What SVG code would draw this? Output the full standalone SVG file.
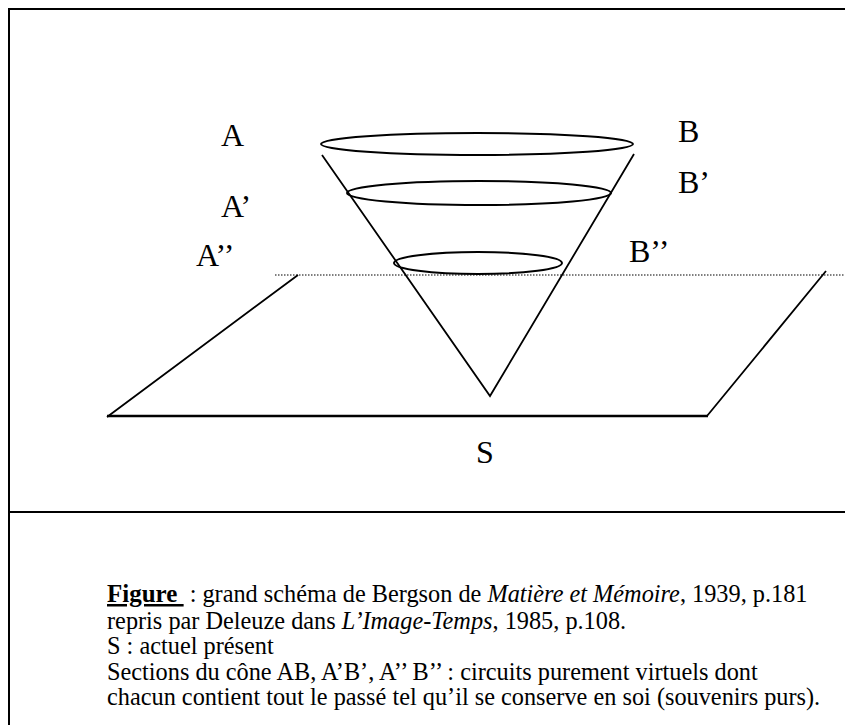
<svg xmlns="http://www.w3.org/2000/svg" width="845" height="725" viewBox="0 0 845 725">
<style>
.frame{fill:none;stroke:#000;stroke-width:2}
.ln{fill:none;stroke:#000;stroke-width:1.8}
.el{fill:none;stroke:#000;stroke-width:2}
.dot{fill:none;stroke:#000;stroke-width:1.2;stroke-dasharray:1.5 1.5}
.lbl{font-family:"Liberation Serif","Times New Roman",serif;font-size:32px;fill:#000}
.cap{font-family:"Liberation Serif","Times New Roman",serif;font-size:24.3px;fill:#000}
.it{font-style:italic}
</style>
<rect width="845" height="725" fill="#fff"/>
<g id="frame">
<path class="frame" d="M846 9 H9 V726"/>
<line class="frame" x1="9" y1="512" x2="846" y2="512"/>
</g>
<g id="plane">
<line class="dot" x1="275" y1="275" x2="845" y2="275"/>
<path class="ln" d="M298 275 L107 417 M826 271 L707 416"/>
<line x1="107" y1="416" x2="708" y2="416" stroke="#000" stroke-width="2.5"/>
</g>
<g id="cone">
<path class="ln" d="M322 155 L490 396 L634 154"/>
<ellipse class="el" cx="477" cy="144" rx="156" ry="11"/>
<ellipse class="el" cx="479" cy="193" rx="132" ry="12"/>
<ellipse class="el" cx="478" cy="263" rx="84" ry="11"/>
</g>
<g id="labels">
<text class="lbl" x="221" y="146">A</text>
<text class="lbl" x="678" y="142">B</text>
<text class="lbl" x="221" y="217">A’</text>
<text class="lbl" x="678" y="193">B’</text>
<text class="lbl" x="196" y="266">A’’</text>
<text class="lbl" x="629" y="262">B’’</text>
<text class="lbl" x="476" y="463">S</text>
</g>
<g id="caption">
<text class="cap" x="107" y="602"><tspan font-weight="bold" font-size="25" text-decoration="underline">Figure </tspan><tspan dx="6">: grand schéma de Bergson de </tspan><tspan class="it">Matière et Mémoire</tspan>, 1939, p.181</text>
<text class="cap" x="107" y="629">repris par Deleuze dans <tspan class="it">L’Image-Temps</tspan>, 1985, p.108.</text>
<text class="cap" x="107" y="654">S : actuel présent</text>
<text class="cap" x="107" y="680">Sections du cône AB, A’B’, A’’ B’’ : circuits purement virtuels dont</text>
<text class="cap" x="107" y="705">chacun contient tout le passé tel qu’il se conserve en soi (souvenirs purs).</text>
</g>
</svg>
